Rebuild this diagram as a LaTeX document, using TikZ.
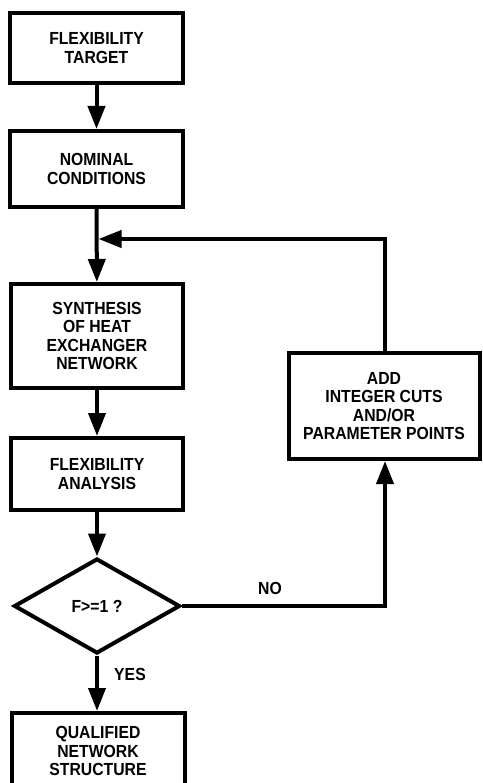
\documentclass[tikz,border=0pt]{standalone}
\usepackage{fontspec}
\setmainfont[FakeStretch=0.9]{Liberation Sans}
\usetikzlibrary{arrows.meta,shapes.geometric}
\begin{document}
\begin{tikzpicture}[x=1pt,y=-1pt,
  every node/.style={font=\fontsize{17.5}{18.6}\selectfont\bfseries},
  stepbox/.style={draw,line width=4pt,rectangle,align=center,inner sep=0pt},
  decide/.style={draw,line width=4pt,diamond,inner sep=0pt,minimum width=166pt,minimum height=95pt,shape aspect=1.75},
  flow/.style={line width=4pt,-{Triangle[width=17pt,length=23pt]}},
  lbl/.style={inner sep=0pt}]
\useasboundingbox (0,0) rectangle (482,783);
\begin{scope}
\clip (0,0) rectangle (482,783);
\node[stepbox,minimum width=173pt,minimum height=70pt] (b1) at (96.5,48) {FLEXIBILITY\\TARGET};
\node[stepbox,minimum width=173pt,minimum height=76pt] (b2) at (96.5,169) {NOMINAL\\CONDITIONS};
\node[stepbox,minimum width=172pt,minimum height=104pt] (b3) at (97,336) {SYNTHESIS\\OF HEAT\\EXCHANGER\\NETWORK};
\node[stepbox,minimum width=172pt,minimum height=72pt] (b4) at (97,474) {FLEXIBILITY\\ANALYSIS};
\node[decide] (d) at (97,606) {F>=1 ?};
\node[stepbox,minimum width=173pt,minimum height=76pt] (b5) at (98,751) {QUALIFIED\\NETWORK\\STRUCTURE};
\node[stepbox,minimum width=191pt,minimum height=106pt] (b6) at (384,406) {ADD\\INTEGER CUTS\\AND/OR\\PARAMETER POINTS};
\coordinate (j) at (98.5,239);
\coordinate (c1) at (385,239);
\coordinate (c2) at (385,606);
\draw[flow] (b1) -- (b2);
\draw[flow] (b2) -- (b3);
\draw[flow] (b3) -- (b4);
\draw[flow] (b4) -- (d.north);
\draw[flow] (d.south) -- (b5.north -| d.south);
\draw[flow] (d.east) -- (c2) -- (b6.south -| c2);
\draw[flow] (b6.north -| c1) -- (c1) -- (j);
\node[lbl] (yes) at (130,674) {YES};
\node[lbl] (no) at (270,588) {NO};
\end{scope}
\end{tikzpicture}
\end{document}
